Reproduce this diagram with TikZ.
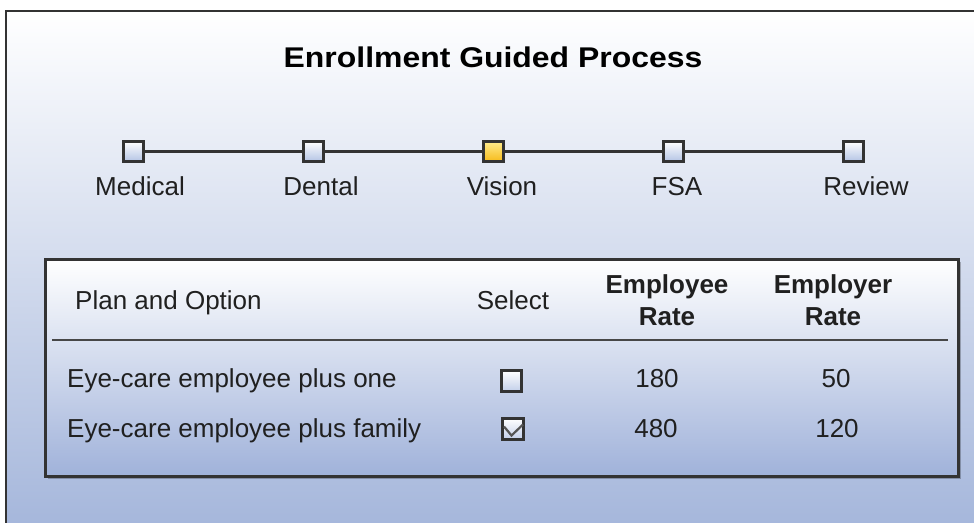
\documentclass[tikz,border=0pt]{standalone}
\usepackage{fontspec}
\setmainfont{Liberation Sans}
\newfontfamily\titlefont[FakeStretch=1.12]{Liberation Sans}
\usetikzlibrary{calc,shadows}
\definecolor{bgbot}{HTML}{A2B4DA}
\definecolor{framec}{HTML}{333333}
\definecolor{sqtop}{HTML}{FFFFFF}
\definecolor{sqbot}{HTML}{B3C3E4}
\definecolor{yeltop}{HTML}{FFEC8E}
\definecolor{yelbot}{HTML}{F6BA18}
\definecolor{txt}{HTML}{202020}
\definecolor{tblbot}{HTML}{A0B2DA}
\definecolor{chkc}{HTML}{555555}
\begin{document}
\begin{tikzpicture}[x=1pt,y=-1pt,
  body/.style={font=\fontsize{26}{30}\selectfont, text=txt, inner sep=0pt},
  hdr/.style={font=\bfseries\fontsize{26}{32}\selectfont, text=txt, inner sep=0pt, align=center},
  stepsq/.style={draw=framec, line width=2.8pt, minimum size=20.5pt, inner sep=0pt, top color=sqtop, bottom color=sqbot},
  cursq/.style={stepsq, top color=yeltop, bottom color=yelbot},
  stepline/.style={draw=framec, line width=2.4pt},
  chkbox/.style={draw=framec, line width=2.6pt, minimum size=20.5pt, inner sep=0pt, top color=white, bottom color=sqbot!80},
  tablebox/.style={draw=framec, line width=2.5pt, inner sep=0pt, top color=white, bottom color=tblbot,
    drop shadow={shadow xshift=3pt, shadow yshift=-3pt, fill=black, opacity=.25}},
  sepline/.style={draw=framec!90, line width=2.2pt},
  checkmark/.style={draw=chkc, line width=2.2pt}
]
\useasboundingbox (0,0) rectangle (974,522);
\clip (0,0) rectangle (974,522);
% outer panel
\draw[draw=framec, line width=2.8pt, top color=white, bottom color=bgbot] (6,11) rectangle (995,545);
% title
\node[font=\titlefont\bfseries\fontsize{28.5}{32}\selectfont, text=black, inner sep=0pt, anchor=base] (title) at (493,67.5) {Enrollment Guided Process};
% steps
\node[stepsq] (s1) at (133.5,151.5) {};
\node[stepsq] (s2) at (313.5,151.5) {};
\node[cursq]  (s3) at (493.5,151.5) {};
\node[stepsq] (s4) at (673.5,151.5) {};
\node[stepsq] (s5) at (853.5,151.5) {};
\draw[stepline] (s1) -- (s2);
\draw[stepline] (s2) -- (s3);
\draw[stepline] (s3) -- (s4);
\draw[stepline] (s4) -- (s5);
\node[body, anchor=base] (l1) at (140,195) {Medical};
\node[body, anchor=base] (l2) at (321,195) {Dental};
\node[body, anchor=base] (l3) at (502,195) {Vision};
\node[body, anchor=base] (l4) at (677,195) {FSA};
\node[body, anchor=base] (l5) at (866,195) {Review};
% table
\node[tablebox, minimum width=913pt, minimum height=217pt, anchor=north west] (tbl) at (44,258) {};
\coordinate (sepL) at (52,340);
\coordinate (sepR) at (948,340);
\draw[sepline] (sepL) -- (sepR);
\node[body, anchor=base west] (h1) at (75,309) {Plan and Option};
\node[body, anchor=base] (h2) at (513,309) {Select};
\node[hdr, anchor=center] (h3) at (667,300) {Employee\\Rate};
\node[hdr, anchor=center] (h4) at (833,300) {Employer\\Rate};
\node[body, anchor=base west] (r1) at (67,387) {Eye-care employee plus one};
\node[body, anchor=base west] (r2) at (67,437) {Eye-care employee plus family};
\node[chkbox] (c1) at (511.5,381) {};
\node[chkbox] (c2) at (513,429) {};
\draw[checkmark] ($(c2.center)+(-9,-2.5)$) -- ($(c2.center)+(-1.5,6.5)$) -- ($(c2.center)+(10,-4.5)$);
\node[body, anchor=base] (e1) at (657,387) {180};
\node[body, anchor=base] (f1) at (836,387) {50};
\node[body, anchor=base] (e2) at (656,437) {480};
\node[body, anchor=base] (f2) at (837,437) {120};
\end{tikzpicture}
\end{document}
